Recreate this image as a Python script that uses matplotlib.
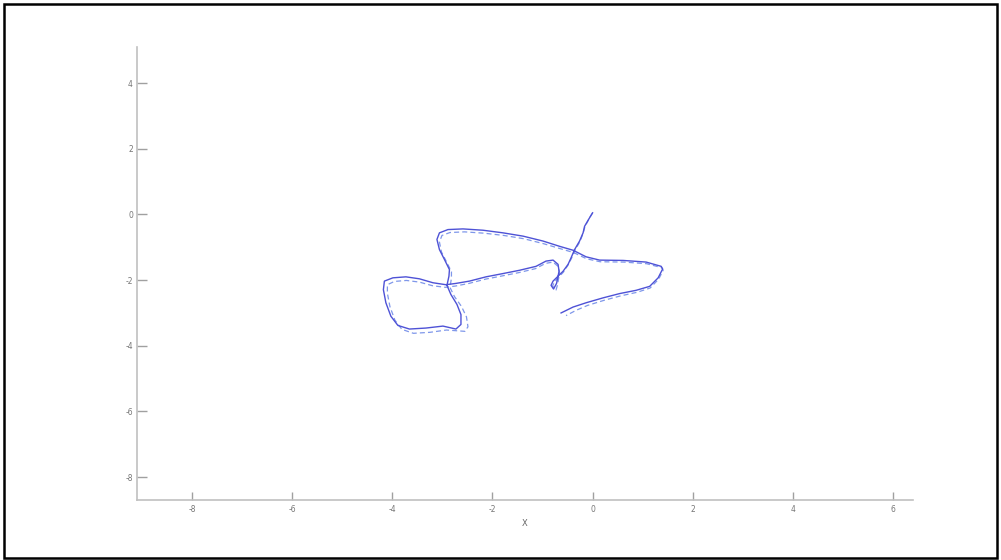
import matplotlib
matplotlib.use("Agg")
import matplotlib.pyplot as plt
from matplotlib.patches import Rectangle

plt.rcParams["axes.unicode_minus"] = False

# estimated trajectory (solid)
est_x = [0.00, -0.06, -0.16, -0.19, -0.26, -0.36, -0.43, -0.49, -0.59, -0.69,
         -0.79, -0.83, -0.78, -0.72, -0.67, -0.69, -0.79, -0.93, -1.13, -1.46,
         -1.79, -2.13, -2.46, -2.73, -2.93, -3.19, -3.46, -3.73, -3.99, -4.16,
         -4.18, -4.13, -4.03, -3.89, -3.66, -3.33, -2.99, -2.73, -2.63, -2.63,
         -2.71, -2.83, -2.91, -2.87, -2.86, -2.96, -3.06, -3.11, -3.06, -2.89,
         -2.59, -2.19, -1.79, -1.39, -0.99, -0.66, -0.39, -0.13, 0.14, 0.61,
         1.07, 1.37, 1.40, 1.31, 1.14, 0.87, 0.54, 0.21, -0.13, -0.39, -0.63]
est_y = [0.05, -0.10, -0.36, -0.56, -0.81, -1.07, -1.32, -1.52, -1.73, -1.88,
         -2.03, -2.16, -2.27, -2.10, -1.73, -1.52, -1.39, -1.42, -1.58, -1.70,
         -1.80, -1.90, -2.03, -2.10, -2.14, -2.08, -1.96, -1.90, -1.93, -2.03,
         -2.29, -2.69, -3.10, -3.38, -3.49, -3.46, -3.40, -3.49, -3.35, -3.05,
         -2.74, -2.44, -2.16, -1.88, -1.68, -1.37, -1.07, -0.76, -0.56, -0.46,
         -0.44, -0.48, -0.56, -0.66, -0.81, -0.97, -1.09, -1.29, -1.39, -1.40,
         -1.45, -1.58, -1.66, -1.93, -2.19, -2.31, -2.41, -2.54, -2.69, -2.82, -3.00]

# ground truth trajectory (dashed)
gt_x = [0.00, -0.06, -0.15, -0.19, -0.25, -0.35, -0.42, -0.49, -0.58, -0.67,
        -0.76, -0.80, -0.73, -0.70, -0.66, -0.69, -0.79, -0.94, -1.14, -1.47,
        -1.80, -2.14, -2.47, -2.74, -2.94, -3.20, -3.46, -3.72, -3.96, -4.10,
        -4.10, -4.05, -3.95, -3.81, -3.58, -3.25, -2.92, -2.55, -2.49, -2.52,
        -2.62, -2.76, -2.85, -2.82, -2.82, -2.92, -3.02, -3.06, -3.01, -2.85,
        -2.56, -2.17, -1.77, -1.37, -0.98, -0.65, -0.38, -0.12, 0.15, 0.62,
        1.08, 1.38, 1.41, 1.32, 1.15, 0.89, 0.56, 0.24, -0.10, -0.33, -0.53]
gt_y = [0.05, -0.10, -0.36, -0.57, -0.82, -1.08, -1.33, -1.54, -1.75, -1.90,
        -2.05, -2.18, -2.30, -2.14, -1.78, -1.58, -1.45, -1.49, -1.65, -1.77,
        -1.87, -1.97, -2.10, -2.18, -2.22, -2.17, -2.06, -2.01, -2.04, -2.14,
        -2.40, -2.80, -3.22, -3.50, -3.62, -3.59, -3.52, -3.56, -3.42, -3.12,
        -2.80, -2.50, -2.22, -1.94, -1.74, -1.44, -1.14, -0.84, -0.64, -0.55,
        -0.53, -0.57, -0.64, -0.74, -0.89, -1.04, -1.16, -1.35, -1.44, -1.45,
        -1.50, -1.62, -1.70, -1.97, -2.24, -2.37, -2.48, -2.61, -2.77, -2.92, -3.08]

x_ticks = [-8, -6, -4, -2, 0, 2, 4, 6]
y_ticks = [-8, -6, -4, -2, 0, 2, 4]

fig = plt.figure(figsize=(10.01, 5.6), dpi=100)
ax = fig.add_axes([0.137, 0.107, 0.775, 0.809])

ax.plot(gt_x, gt_y, color="#7f97ea", lw=0.9, dashes=(4, 2.5))
ax.plot(est_x, est_y, color="#4e52d6", lw=1.0)

ax.set_xlim(-9.1, 6.4)
ax.set_ylim(-8.7, 5.1)
ax.set_xticks(x_ticks)
ax.set_yticks(y_ticks)
ax.set_xlabel("X", fontsize=6, color="#666666", labelpad=4)

for side in ("top", "right"):
    ax.spines[side].set_visible(False)
for side in ("left", "bottom"):
    ax.spines[side].set_color("#c0c0c0")
    ax.spines[side].set_linewidth(1.2)
ax.tick_params(direction="in", colors="#a0a0a0", labelcolor="#777777",
               labelsize=5.5, length=6, width=1)
ax.tick_params(axis="y", length=7, pad=3)

# frame round the whole figure
fig.patches.append(Rectangle((0.004, 0.004), 0.992, 0.989, transform=fig.transFigure,
                             fill=False, edgecolor="black", lw=1.8))

fig.savefig("out.png", dpi=100)
